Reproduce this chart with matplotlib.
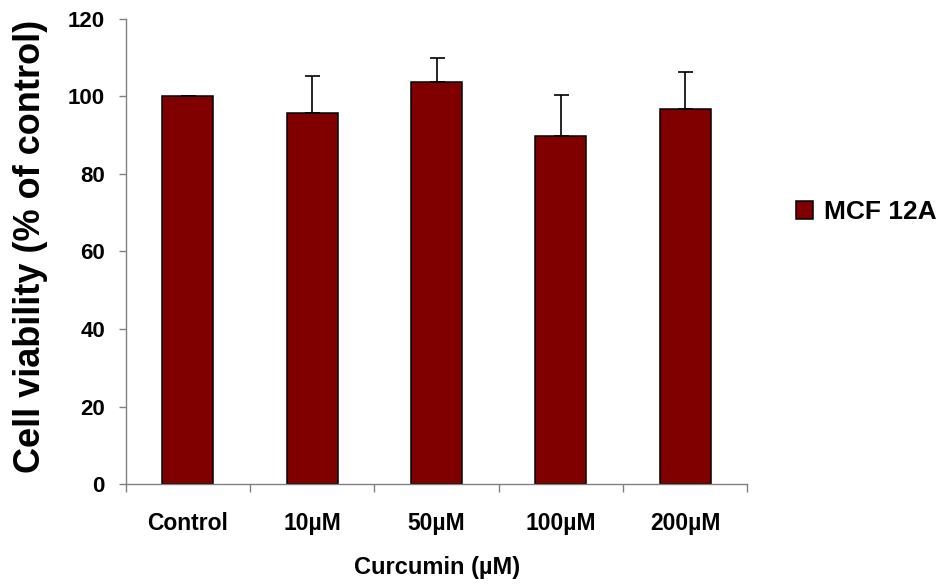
import matplotlib
matplotlib.use("Agg")
import matplotlib.pyplot as plt
import numpy as np

plt.rcParams['font.family'] = ['Liberation Sans', 'DejaVu Sans']
plt.rcParams['font.weight'] = 'bold'

# dati
categories = ["Control", "10µM", "50µM", "100µM", "200µM"]
viability = [100.0, 95.7, 103.7, 89.7, 96.8]
sd_up = [0.2, 9.6, 6.3, 10.8, 9.6]
series_name = "MCF 12A"

fig = plt.figure(figsize=(9.46, 5.85), dpi=100)
ax = fig.add_axes([0.133, 0.1726, 0.657, 0.795])

x = np.arange(len(categories))
ax.bar(x, viability, width=0.41, color="#800000", edgecolor="black",
       linewidth=1.1, label=series_name, zorder=2)
# barre di errore solo verso l'alto
ax.errorbar(x, viability, yerr=[np.zeros(len(sd_up)), sd_up], fmt="none",
            ecolor="black", elinewidth=1.2, capsize=5.4, capthick=1.2, zorder=3)

ax.set_xlim(-0.5, len(categories) - 0.5)
ax.set_ylim(0, 120)
ax.set_yticks(range(0, 121, 20))
ax.set_xticks(x)
ax.set_xticklabels(categories, fontsize=16.5, fontweight="bold")
ax.tick_params(axis="x", length=0, pad=20)
ax.set_xticks(np.arange(-0.5, len(categories)), minor=True)
ax.tick_params(axis="x", which="minor", length=5.8, color="#808080", width=1)
ax.tick_params(axis="y", length=5, color="#808080", width=1, labelsize=16, pad=10)
for lab in ax.get_yticklabels():
    lab.set_fontweight("bold")

for side in ["top", "right"]:
    ax.spines[side].set_visible(False)
for side in ["left", "bottom"]:
    ax.spines[side].set_color("#808080")
    ax.spines[side].set_linewidth(1)

ax.set_xlabel("Curcumin (µM)", fontsize=17, fontweight="bold")
ax.xaxis.set_label_coords(0.5, -0.155)
ax.set_ylabel("Cell viability (% of control)", fontsize=26, fontweight="bold")
ax.yaxis.set_label_coords(-0.126, 0.51)

fig.legend(loc="center left", bbox_to_anchor=(0.8414, 0.6376), frameon=False,
           prop={"size": 19, "weight": "bold"}, handlelength=0.65, handleheight=0.65,
           handletextpad=0.42, borderpad=0, borderaxespad=0)

fig.savefig("out.png", dpi=100)
